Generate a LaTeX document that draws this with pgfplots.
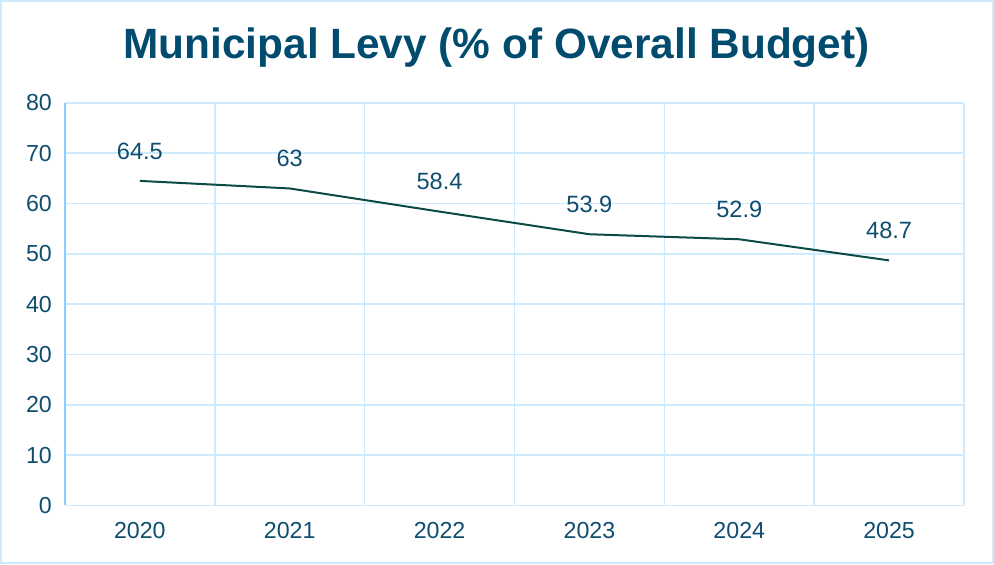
\documentclass[border=0pt]{standalone}
\usepackage{fontspec}
\setmainfont{Liberation Sans}
\usepackage{pgfplots}
\pgfplotsset{compat=1.18}
\definecolor{titleblue}{HTML}{004B6E}
\definecolor{labelblue}{HTML}{0E4D6E}
\definecolor{gridblue}{HTML}{CDEBFD}
\definecolor{axisblue}{HTML}{86CFFF}
\definecolor{linegreen}{HTML}{0B4A45}
\begin{document}
\begin{tikzpicture}
\path[use as bounding box, draw=gridblue, line width=1pt] (-32pt,-29pt) rectangle (464.5pt,252.5pt);
\node[font=\bfseries\fontsize{21.2}{25}\selectfont, text=titleblue] at (216pt,229pt) {Municipal Levy (\% of Overall Budget)};
\begin{axis}[
  scale only axis,
  width=450pt,height=201.5pt,
  xmin=-0.5,xmax=5.5,ymin=0,ymax=80,
  axis y line*=left,
  xtick={0,1,2,3,4,5},
  xticklabels={2020,2021,2022,2023,2024,2025},
  minor xtick={0.5,1.5,2.5,3.5,4.5,5.5},
  ytick={0,10,...,80},
  xminorgrids, ymajorgrids,
  grid style={draw=gridblue, line width=0.8pt},
  minor grid style={draw=gridblue, line width=0.8pt},
  major tick length=0pt, minor tick length=0pt,
  x axis line style={draw=gridblue, line width=0.8pt},
  y axis line style={draw=axisblue, line width=0.8pt, -},
  tick label style={font=\fontsize{11.6}{13}\selectfont, text=labelblue},
  /pgf/number format/assume math mode=true,
  yticklabel style={xshift=-3pt},
  xticklabel style={yshift=-5pt},
  nodes near coords,
  every node near coord/.append style={anchor=center, yshift=15pt, font=\fontsize{11.8}{13}\selectfont, text=labelblue},
]
\addplot[linegreen, line width=1pt, mark=none] coordinates {(0,64.5) (1,63) (2,58.4) (3,53.9) (4,52.9) (5,48.7)};
\end{axis}
\end{tikzpicture}
\end{document}
